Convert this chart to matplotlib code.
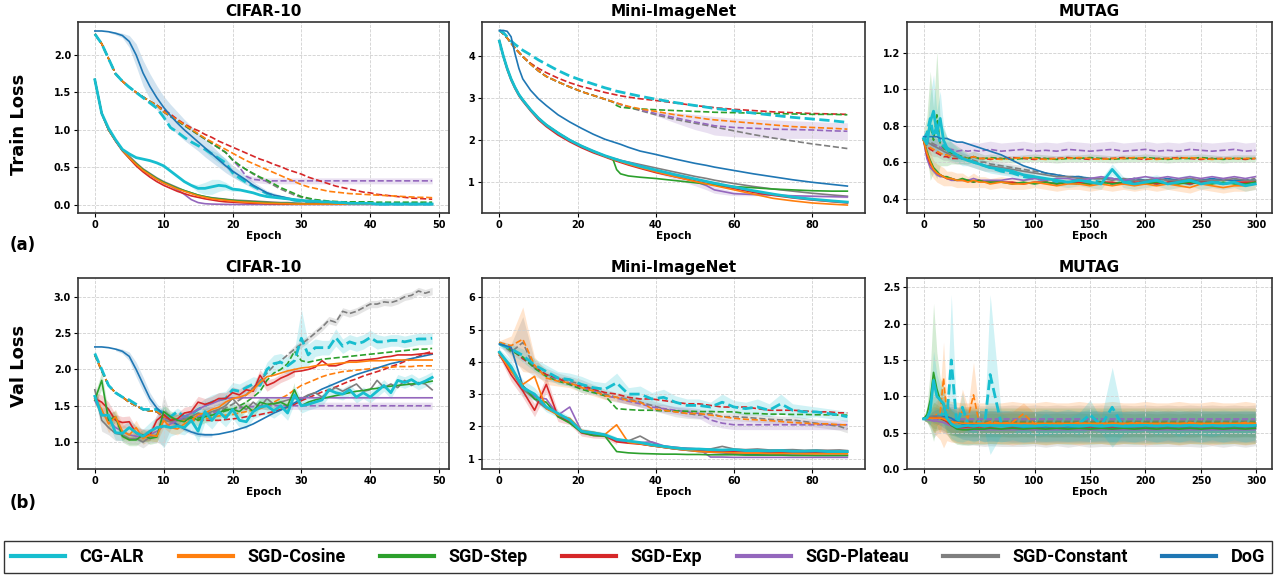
import matplotlib.pyplot as plt
from matplotlib.lines import Line2D
import numpy as np

plt.rcParams["font.family"] = ["DejaVu Sans"]
plt.rcParams["font.weight"] = "bold"
plt.rcParams["axes.titleweight"] = "bold"
plt.rcParams["axes.labelweight"] = "bold"

methods = ["CG-ALR", "SGD-Cosine", "SGD-Step", "SGD-Exp", "SGD-Plateau", "SGD-Constant", "DoG"]
colors = ["#17becf", "#ff7f0e", "#2ca02c", "#d62728", "#9467bd", "#7f7f7f", "#1f77b4"]

# ---------------- CIFAR-10 (epochs 0..49) ----------------
cifar_ep = list(range(50))

cifar_train_solid = {
    "CG-ALR": [1.67, 1.22, 1.02, 0.87, 0.74, 0.68, 0.63, 0.61, 0.59, 0.56,
               0.52, 0.45, 0.38, 0.31, 0.26, 0.22, 0.22, 0.24, 0.26, 0.25,
               0.21, 0.20, 0.18, 0.16, 0.13, 0.11, 0.10, 0.09, 0.08, 0.07,
               0.06, 0.05, 0.05, 0.04, 0.04, 0.03, 0.03, 0.02, 0.02, 0.02,
               0.02, 0.01, 0.01, 0.01, 0.01, 0.01, 0.01, 0.01, 0.01, 0.01],
    "SGD-Cosine": [1.67, 1.22, 1.00, 0.86, 0.73, 0.63, 0.54, 0.46, 0.40, 0.34,
                   0.29, 0.25, 0.21, 0.18, 0.15, 0.12, 0.10, 0.08, 0.07, 0.06,
                   0.05, 0.04, 0.035, 0.03, 0.025, 0.02, 0.02, 0.015, 0.015, 0.01,
                   0.01, 0.01, 0.01, 0.01, 0.01, 0.01, 0.01, 0.01, 0.01, 0.01,
                   0.01, 0.01, 0.01, 0.01, 0.01, 0.01, 0.01, 0.01, 0.01, 0.01],
    "SGD-Step": [1.67, 1.22, 1.00, 0.86, 0.73, 0.63, 0.55, 0.47, 0.41, 0.35,
                 0.30, 0.26, 0.22, 0.19, 0.16, 0.13, 0.11, 0.09, 0.08, 0.07,
                 0.06, 0.05, 0.045, 0.04, 0.035, 0.03, 0.025, 0.02, 0.02, 0.015,
                 0.015, 0.01, 0.01, 0.01, 0.01, 0.01, 0.01, 0.01, 0.01, 0.01,
                 0.01, 0.01, 0.01, 0.01, 0.01, 0.01, 0.01, 0.01, 0.01, 0.01],
    "SGD-Exp": [1.67, 1.22, 1.00, 0.85, 0.72, 0.62, 0.52, 0.44, 0.37, 0.31,
                0.26, 0.22, 0.18, 0.15, 0.12, 0.10, 0.08, 0.065, 0.05, 0.04,
                0.035, 0.03, 0.025, 0.02, 0.02, 0.015, 0.015, 0.01, 0.01, 0.01,
                0.01, 0.01, 0.01, 0.01, 0.01, 0.01, 0.01, 0.01, 0.01, 0.01,
                0.01, 0.01, 0.01, 0.01, 0.01, 0.01, 0.01, 0.01, 0.01, 0.01],
    "SGD-Plateau": [1.67, 1.22, 1.00, 0.86, 0.73, 0.63, 0.54, 0.46, 0.40, 0.34,
                    0.29, 0.25, 0.20, 0.14, 0.07, 0.03, 0.015, 0.01, 0.008, 0.006,
                    0.005, 0.005, 0.005, 0.005, 0.005, 0.005, 0.005, 0.005, 0.005, 0.005,
                    0.005, 0.005, 0.005, 0.005, 0.005, 0.005, 0.005, 0.005, 0.005, 0.005,
                    0.005, 0.005, 0.005, 0.005, 0.005, 0.005, 0.005, 0.005, 0.005, 0.005],
    "SGD-Constant": [1.67, 1.22, 1.00, 0.86, 0.74, 0.65, 0.56, 0.48, 0.42, 0.36,
                     0.31, 0.27, 0.23, 0.19, 0.16, 0.13, 0.11, 0.095, 0.085, 0.075,
                     0.065, 0.06, 0.055, 0.05, 0.045, 0.04, 0.035, 0.03, 0.03, 0.025,
                     0.02, 0.02, 0.02, 0.015, 0.015, 0.015, 0.01, 0.01, 0.01, 0.01,
                     0.01, 0.01, 0.01, 0.01, 0.01, 0.01, 0.01, 0.01, 0.01, 0.01],
    "DoG": [2.32, 2.32, 2.31, 2.29, 2.26, 2.18, 2.00, 1.76, 1.58, 1.43,
            1.30, 1.19, 1.09, 1.00, 0.92, 0.84, 0.76, 0.68, 0.60, 0.52,
            0.45, 0.39, 0.33, 0.26, 0.21, 0.16, 0.13, 0.11, 0.09, 0.07,
            0.06, 0.05, 0.04, 0.03, 0.025, 0.02, 0.015, 0.01, 0.01, 0.01,
            0.01, 0.01, 0.01, 0.01, 0.01, 0.01, 0.01, 0.01, 0.01, 0.01],
}

cifar_train_dashed = {
    "CG-ALR": [2.28, 2.15, 1.95, 1.75, 1.65, 1.57, 1.50, 1.43, 1.36, 1.29,
               1.17, 1.03, 0.97, 0.90, 0.84, 0.79, 0.74, 0.68, 0.62, 0.56,
               0.43, 0.36, 0.30, 0.25, 0.20, 0.15, 0.12, 0.10, 0.08, 0.06,
               0.05, 0.04, 0.035, 0.03, 0.025, 0.02, 0.02, 0.02, 0.015, 0.015,
               0.015, 0.01, 0.01, 0.01, 0.01, 0.01, 0.01, 0.01, 0.01, 0.01],
    "SGD-Cosine": [2.28, 2.15, 1.95, 1.75, 1.65, 1.57, 1.50, 1.44, 1.38, 1.33,
                   1.24, 1.19, 1.13, 1.07, 1.01, 0.95, 0.89, 0.84, 0.79, 0.74,
                   0.69, 0.64, 0.59, 0.55, 0.51, 0.47, 0.43, 0.39, 0.35, 0.31,
                   0.27, 0.24, 0.22, 0.20, 0.18, 0.17, 0.16, 0.15, 0.145, 0.14,
                   0.135, 0.13, 0.125, 0.12, 0.115, 0.11, 0.105, 0.10, 0.10, 0.095],
    "SGD-Step": [2.28, 2.15, 1.95, 1.75, 1.65, 1.57, 1.50, 1.44, 1.38, 1.33,
                 1.24, 1.18, 1.12, 1.06, 1.00, 0.94, 0.88, 0.82, 0.76, 0.70,
                 0.60, 0.53, 0.47, 0.42, 0.37, 0.33, 0.28, 0.23, 0.19, 0.15,
                 0.11, 0.09, 0.07, 0.06, 0.05, 0.045, 0.04, 0.04, 0.04, 0.04,
                 0.04, 0.035, 0.035, 0.035, 0.035, 0.035, 0.035, 0.035, 0.035, 0.035],
    "SGD-Exp": [2.28, 2.15, 1.95, 1.75, 1.65, 1.57, 1.50, 1.44, 1.38, 1.33,
                1.27, 1.21, 1.14, 1.08, 1.03, 0.99, 0.94, 0.90, 0.85, 0.81,
                0.77, 0.73, 0.69, 0.65, 0.61, 0.58, 0.54, 0.51, 0.47, 0.44,
                0.41, 0.37, 0.34, 0.31, 0.28, 0.25, 0.23, 0.21, 0.19, 0.17,
                0.16, 0.14, 0.13, 0.12, 0.11, 0.10, 0.09, 0.085, 0.08, 0.075],
    "SGD-Plateau": [2.28, 2.15, 1.95, 1.75, 1.65, 1.57, 1.50, 1.44, 1.38, 1.33,
                    1.24, 1.18, 1.12, 1.06, 1.00, 0.94, 0.88, 0.82, 0.76, 0.70,
                    0.60, 0.50, 0.38, 0.34, 0.33, 0.32, 0.32, 0.32, 0.32, 0.32,
                    0.32, 0.32, 0.32, 0.32, 0.32, 0.32, 0.32, 0.32, 0.32, 0.32,
                    0.32, 0.32, 0.32, 0.32, 0.32, 0.32, 0.32, 0.32, 0.32, 0.32],
    "SGD-Constant": [2.28, 2.15, 1.95, 1.75, 1.65, 1.57, 1.50, 1.44, 1.38, 1.33,
                     1.24, 1.18, 1.12, 1.06, 1.00, 0.94, 0.88, 0.82, 0.76, 0.70,
                     0.60, 0.53, 0.47, 0.41, 0.36, 0.31, 0.26, 0.21, 0.17, 0.13,
                     0.10, 0.08, 0.06, 0.05, 0.04, 0.035, 0.03, 0.03, 0.025, 0.025,
                     0.02, 0.02, 0.02, 0.02, 0.02, 0.02, 0.02, 0.02, 0.02, 0.02],
}

# band = (first index, half widths)
cifar_train_band = {
    ("DoG", "-"): (2, [0.01, 0.02, 0.03, 0.08, 0.15, 0.17, 0.17, 0.16,
                       0.15, 0.15, 0.15, 0.14, 0.13, 0.12, 0.12, 0.11, 0.10, 0.09,
                       0.08, 0.07, 0.06, 0.05, 0.04, 0.03, 0.03, 0.02, 0.02, 0.02]),
    ("SGD-Plateau", "--"): (22, [0.03, 0.04, 0.04, 0.04, 0.04, 0.04, 0.04, 0.04,
                                 0.04, 0.04, 0.04, 0.04, 0.04, 0.04, 0.04, 0.04, 0.04, 0.04,
                                 0.04, 0.04, 0.04, 0.04, 0.04, 0.04, 0.04, 0.04, 0.04, 0.04]),
    ("CG-ALR", "-"): (14, [0.02, 0.05, 0.08, 0.10, 0.08, 0.05, 0.03, 0.02]),
    ("CG-ALR", "--"): (16, [0.03, 0.05, 0.06, 0.06, 0.05, 0.04, 0.03]),
}

cifar_val_solid = {
    "CG-ALR": [1.63, 1.37, 1.37, 1.13, 1.12, 1.20, 1.13, 1.08, 1.15, 1.20,
               1.22, 1.20, 1.22, 1.20, 1.30, 1.15, 1.42, 1.30, 1.42, 1.33,
               1.45, 1.30, 1.28, 1.42, 1.48, 1.50, 1.43, 1.50, 1.40, 1.65,
               1.50, 1.52, 1.55, 1.58, 1.72, 1.68, 1.66, 1.72, 1.62, 1.68,
               1.62, 1.70, 1.78, 1.68, 1.85, 1.82, 1.86, 1.80, 1.84, 1.89],
    "SGD-Cosine": [1.60, 1.45, 1.25, 1.35, 1.15, 1.10, 1.20, 1.05, 1.10, 1.08,
                   1.30, 1.20, 1.18, 1.25, 1.30, 1.38, 1.40, 1.45, 1.48, 1.55,
                   1.60, 1.62, 1.65, 1.72, 1.82, 1.90, 1.92, 1.95, 1.98, 2.00,
                   2.02, 2.03, 2.05, 2.06, 2.07, 2.08, 2.09, 2.10, 2.10, 2.11,
                   2.12, 2.12, 2.12, 2.13, 2.13, 2.13, 2.13, 2.13, 2.13, 2.13],
    "SGD-Step": [1.58, 1.85, 1.30, 1.35, 1.08, 1.03, 1.03, 1.10, 1.05, 1.07,
                 1.42, 1.35, 1.30, 1.28, 1.35, 1.30, 1.35, 1.37, 1.40, 1.45,
                 1.45, 1.42, 1.50, 1.42, 1.55, 1.52, 1.53, 1.55, 1.50, 1.72,
                 1.50, 1.55, 1.58, 1.60, 1.62, 1.64, 1.66, 1.68, 1.70, 1.71,
                 1.73, 1.74, 1.76, 1.77, 1.78, 1.79, 1.80, 1.81, 1.82, 1.84],
    "SGD-Exp": [1.60, 1.55, 1.45, 1.30, 1.27, 1.28, 1.12, 1.10, 1.10, 1.30,
                1.38, 1.30, 1.32, 1.40, 1.42, 1.55, 1.52, 1.55, 1.60, 1.60,
                1.68, 1.65, 1.72, 1.70, 1.92, 1.78, 1.82, 1.88, 1.92, 1.97,
                1.98, 2.00, 2.03, 2.12, 2.05, 2.05, 2.08, 2.12, 2.12, 2.13,
                2.14, 2.15, 2.17, 2.18, 2.20, 2.20, 2.20, 2.21, 2.22, 2.22],
    "SGD-Plateau": [1.57, 1.40, 1.30, 1.20, 1.15, 1.10, 1.08, 1.07, 1.10, 1.15,
                    1.22, 1.25, 1.30, 1.35, 1.40, 1.45, 1.50, 1.53, 1.57, 1.60,
                    1.61, 1.61, 1.61, 1.61, 1.61, 1.61, 1.61, 1.61, 1.61, 1.61,
                    1.61, 1.61, 1.61, 1.61, 1.61, 1.61, 1.61, 1.61, 1.61, 1.61,
                    1.61, 1.61, 1.61, 1.61, 1.61, 1.61, 1.61, 1.61, 1.61, 1.61],
    "SGD-Constant": [1.72, 1.30, 1.20, 1.12, 1.10, 1.05, 1.05, 1.00, 1.07, 1.10,
                     1.30, 1.28, 1.30, 1.32, 1.35, 1.40, 1.38, 1.42, 1.45, 1.50,
                     1.60, 1.50, 1.45, 1.55, 1.48, 1.60, 1.52, 1.55, 1.58, 1.60,
                     1.60, 1.65, 1.68, 1.62, 1.70, 1.75, 1.70, 1.75, 1.80, 1.70,
                     1.72, 1.85, 1.75, 1.80, 1.75, 1.85, 1.78, 1.82, 1.80, 1.72],
    "DoG": [2.31, 2.31, 2.30, 2.28, 2.25, 2.18, 2.00, 1.80, 1.60, 1.47,
            1.38, 1.30, 1.24, 1.18, 1.14, 1.11, 1.10, 1.10, 1.11, 1.13,
            1.15, 1.18, 1.21, 1.25, 1.30, 1.35, 1.40, 1.44, 1.49, 1.54,
            1.59, 1.64, 1.68, 1.73, 1.77, 1.81, 1.85, 1.89, 1.93, 1.96,
            1.99, 2.02, 2.05, 2.08, 2.10, 2.13, 2.15, 2.17, 2.19, 2.21],
}

cifar_val_dashed = {
    "CG-ALR": [2.22, 2.00, 1.78, 1.68, 1.62, 1.58, 1.52, 1.45, 1.45, 1.45,
               1.40, 1.35, 1.42, 1.35, 1.38, 1.45, 1.50, 1.55, 1.58, 1.60,
               1.72, 1.70, 1.75, 1.80, 1.78, 2.00, 2.08, 2.10, 2.05, 2.12,
               2.43, 2.20, 2.30, 2.30, 2.30, 2.44, 2.32, 2.38, 2.35, 2.38,
               2.44, 2.38, 2.38, 2.40, 2.40, 2.38, 2.40, 2.42, 2.42, 2.43],
    "SGD-Cosine": [2.20, 1.98, 1.78, 1.68, 1.62, 1.55, 1.50, 1.45, 1.43, 1.42,
                   1.35, 1.32, 1.30, 1.30, 1.30, 1.30, 1.32, 1.34, 1.36, 1.37,
                   1.38, 1.40, 1.42, 1.44, 1.46, 1.50, 1.55, 1.60, 1.65, 1.72,
                   1.78, 1.82, 1.86, 1.90, 1.93, 1.95, 1.97, 1.98, 1.99, 2.00,
                   2.01, 2.02, 2.03, 2.03, 2.04, 2.04, 2.04, 2.05, 2.05, 2.05],
    "SGD-Step": [2.20, 1.98, 1.78, 1.68, 1.62, 1.55, 1.50, 1.45, 1.43, 1.42,
                 1.35, 1.32, 1.30, 1.32, 1.33, 1.33, 1.35, 1.37, 1.40, 1.43,
                 1.45, 1.50, 1.55, 1.62, 1.70, 1.85, 1.95, 2.00, 2.08, 2.25,
                 2.12, 2.10, 2.12, 2.14, 2.15, 2.16, 2.17, 2.18, 2.19, 2.20,
                 2.21, 2.22, 2.23, 2.24, 2.25, 2.26, 2.27, 2.28, 2.28, 2.29],
    "SGD-Exp": [2.20, 1.98, 1.78, 1.68, 1.62, 1.55, 1.50, 1.45, 1.43, 1.42,
                1.35, 1.32, 1.30, 1.30, 1.30, 1.30, 1.30, 1.30, 1.30, 1.31,
                1.32, 1.33, 1.35, 1.36, 1.38, 1.40, 1.42, 1.45, 1.48, 1.52,
                1.57, 1.61, 1.65, 1.69, 1.72, 1.76, 1.80, 1.84, 1.87, 1.91,
                1.94, 1.97, 2.00, 2.04, 2.07, 2.11, 2.14, 2.18, 2.22, 2.25],
    "SGD-Plateau": [2.20, 1.98, 1.78, 1.68, 1.62, 1.55, 1.50, 1.45, 1.43, 1.42,
                    1.32, 1.31, 1.30, 1.31, 1.33, 1.35, 1.38, 1.40, 1.42, 1.44,
                    1.45, 1.47, 1.48, 1.49, 1.50, 1.50, 1.50, 1.50, 1.50, 1.50,
                    1.50, 1.50, 1.50, 1.50, 1.50, 1.50, 1.50, 1.50, 1.50, 1.50,
                    1.50, 1.50, 1.50, 1.50, 1.50, 1.50, 1.50, 1.50, 1.50, 1.50],
    "SGD-Constant": [2.20, 1.98, 1.78, 1.68, 1.62, 1.55, 1.50, 1.45, 1.43, 1.42,
                     1.35, 1.30, 1.30, 1.32, 1.33, 1.35, 1.37, 1.40, 1.43, 1.47,
                     1.52, 1.58, 1.65, 1.75, 1.85, 1.95, 2.05, 2.12, 2.20, 2.28,
                     2.35, 2.42, 2.50, 2.58, 2.68, 2.65, 2.80, 2.77, 2.80, 2.85,
                     2.90, 2.90, 2.93, 2.92, 2.95, 3.00, 3.02, 3.08, 3.05, 3.08],
}

cifar_val_band = {
    ("CG-ALR", "-"): (0, [0.05, 0.10, 0.12, 0.10, 0.10, 0.10, 0.10, 0.10, 0.12, 0.15,
                          0.30, 0.12, 0.10, 0.10, 0.12, 0.15, 0.15, 0.12, 0.12, 0.12,
                          0.12, 0.10, 0.10, 0.10, 0.12, 0.12, 0.10, 0.10, 0.10, 0.12,
                          0.10, 0.08, 0.08, 0.08, 0.10, 0.08, 0.08, 0.08, 0.08, 0.08,
                          0.08, 0.08, 0.08, 0.08, 0.08, 0.08, 0.08, 0.08, 0.08, 0.08]),
    ("CG-ALR", "--"): (10, [0.05, 0.05, 0.05, 0.05, 0.05, 0.08, 0.10, 0.10, 0.10, 0.10,
                            0.10, 0.10, 0.10, 0.10, 0.10, 0.10, 0.12, 0.12, 0.12, 0.15,
                            0.40, 0.15, 0.12, 0.10, 0.10, 0.12, 0.10, 0.10, 0.10, 0.10,
                            0.10, 0.10, 0.08, 0.08, 0.08, 0.08, 0.08, 0.08, 0.08, 0.08]),
    ("SGD-Constant", "-"): (0, [0.10, 0.15, 0.10, 0.10, 0.08, 0.08, 0.08, 0.08, 0.08, 0.10,
                                0.35, 0.10, 0.08, 0.08, 0.08, 0.08, 0.08, 0.08, 0.08, 0.08]),
    ("SGD-Constant", "--"): (28, [0.04, 0.05, 0.05, 0.05, 0.05, 0.05, 0.05, 0.05, 0.05, 0.05,
                                  0.05, 0.05, 0.05, 0.05, 0.05, 0.05, 0.05, 0.05, 0.05, 0.05,
                                  0.05, 0.05]),
    ("DoG", "-"): (3, [0.02, 0.03, 0.06, 0.10, 0.10, 0.08, 0.06, 0.05, 0.04, 0.03,
                       0.03, 0.03, 0.03, 0.03, 0.03]),
    ("SGD-Plateau", "--"): (20, [0.05, 0.05, 0.05, 0.05, 0.05, 0.05, 0.05, 0.05, 0.05, 0.05,
                                 0.05, 0.05, 0.05, 0.05, 0.05, 0.05, 0.05, 0.05, 0.05, 0.05,
                                 0.05, 0.05, 0.05, 0.05, 0.05, 0.05, 0.05, 0.05, 0.05, 0.05]),
    ("SGD-Cosine", "-"): (0, [0.08, 0.10, 0.12, 0.10, 0.10, 0.08, 0.10, 0.08, 0.08, 0.08,
                              0.10, 0.08, 0.08, 0.08]),
    ("SGD-Exp", "-"): (0, [0.08, 0.10, 0.10, 0.08, 0.08, 0.08, 0.08, 0.08, 0.08, 0.08,
                           0.08, 0.08, 0.08, 0.08, 0.08, 0.08, 0.08, 0.08, 0.08, 0.08,
                           0.08, 0.08, 0.08, 0.08, 0.08, 0.08, 0.06, 0.06, 0.06, 0.06]),
    ("SGD-Step", "-"): (0, [0.08, 0.12, 0.10, 0.08, 0.08, 0.08, 0.08, 0.08, 0.08, 0.08,
                            0.10, 0.08, 0.08, 0.08, 0.08, 0.08, 0.08, 0.08, 0.08, 0.08,
                            0.08, 0.08, 0.08, 0.08, 0.08, 0.08, 0.08, 0.08, 0.08, 0.10]),
}

# ---------------- Mini-ImageNet (epochs 0..89) ----------------
mini_ep = [0, 1, 2, 3, 4, 5, 6, 8, 10, 12, 15, 18, 21, 24, 27, 29, 30, 31, 33, 36,
           40, 45, 50, 53, 55, 60, 65, 70, 75, 80, 85, 89]

mini_train_solid = {
    "CG-ALR": [4.35, 4.00, 3.70, 3.45, 3.25, 3.08, 2.95, 2.72, 2.52, 2.36, 2.17, 2.00, 1.86, 1.74, 1.63, 1.57,
               1.54, 1.51, 1.46, 1.38, 1.29, 1.18, 1.08, 1.02, 0.98, 0.89, 0.80, 0.72, 0.65, 0.60, 0.56, 0.53],
    "SGD-Cosine": [4.35, 4.00, 3.70, 3.45, 3.25, 3.08, 2.95, 2.72, 2.52, 2.36, 2.17, 2.00, 1.86, 1.73, 1.62, 1.55,
                   1.52, 1.49, 1.43, 1.35, 1.25, 1.13, 1.02, 0.96, 0.92, 0.82, 0.72, 0.62, 0.56, 0.51, 0.48, 0.46],
    "SGD-Step": [4.35, 4.00, 3.70, 3.45, 3.25, 3.08, 2.95, 2.72, 2.52, 2.36, 2.17, 2.00, 1.86, 1.73, 1.62, 1.56,
                 1.30, 1.20, 1.15, 1.12, 1.09, 1.04, 0.99, 0.96, 0.94, 0.90, 0.87, 0.84, 0.82, 0.80, 0.79, 0.79],
    "SGD-Exp": [4.35, 3.98, 3.67, 3.42, 3.22, 3.05, 2.92, 2.69, 2.48, 2.32, 2.12, 1.96, 1.82, 1.70, 1.60, 1.53,
                1.50, 1.47, 1.41, 1.33, 1.23, 1.13, 1.03, 0.97, 0.94, 0.85, 0.76, 0.69, 0.63, 0.58, 0.54, 0.51],
    "SGD-Plateau": [4.35, 4.00, 3.70, 3.45, 3.25, 3.08, 2.95, 2.72, 2.52, 2.36, 2.17, 2.00, 1.86, 1.74, 1.63, 1.57,
                    1.54, 1.51, 1.47, 1.40, 1.27, 1.15, 1.02, 0.92, 0.82, 0.73, 0.71, 0.70, 0.68, 0.67, 0.66, 0.65],
    "SGD-Constant": [4.35, 4.00, 3.70, 3.45, 3.25, 3.08, 2.95, 2.72, 2.52, 2.36, 2.17, 2.00, 1.86, 1.74, 1.63, 1.57,
                     1.55, 1.52, 1.48, 1.42, 1.34, 1.24, 1.14, 1.09, 1.05, 0.97, 0.90, 0.84, 0.79, 0.74, 0.70, 0.67],
    "DoG": [4.60, 4.60, 4.58, 4.45, 4.05, 3.70, 3.45, 3.18, 2.98, 2.82, 2.60, 2.43, 2.28, 2.14, 2.02, 1.96,
            1.93, 1.90, 1.83, 1.74, 1.66, 1.55, 1.45, 1.40, 1.36, 1.28, 1.20, 1.13, 1.06, 1.00, 0.95, 0.91],
}

mini_train_dashed = {
    "CG-ALR": [4.60, 4.55, 4.45, 4.35, 4.27, 4.20, 4.13, 4.02, 3.90, 3.80, 3.65, 3.52, 3.42, 3.33, 3.24, 3.19,
               3.16, 3.14, 3.10, 3.04, 2.97, 2.89, 2.82, 2.78, 2.75, 2.70, 2.64, 2.59, 2.54, 2.50, 2.46, 2.42],
    "SGD-Cosine": [4.60, 4.52, 4.42, 4.30, 4.18, 4.08, 3.98, 3.80, 3.64, 3.51, 3.38, 3.26, 3.15, 3.06, 2.97, 2.91,
                   2.88, 2.85, 2.80, 2.74, 2.68, 2.60, 2.54, 2.50, 2.48, 2.44, 2.40, 2.36, 2.32, 2.30, 2.28, 2.26],
    "SGD-Step": [4.60, 4.52, 4.42, 4.30, 4.18, 4.08, 3.98, 3.80, 3.64, 3.51, 3.38, 3.26, 3.15, 3.06, 2.97, 2.91,
                 2.82, 2.78, 2.76, 2.74, 2.72, 2.70, 2.68, 2.67, 2.66, 2.65, 2.64, 2.63, 2.62, 2.61, 2.61, 2.60],
    "SGD-Exp": [4.60, 4.52, 4.42, 4.30, 4.18, 4.08, 3.98, 3.82, 3.70, 3.60, 3.47, 3.36, 3.27, 3.20, 3.13, 3.09,
                3.07, 3.05, 3.02, 2.98, 2.94, 2.88, 2.82, 2.79, 2.77, 2.73, 2.70, 2.67, 2.65, 2.63, 2.62, 2.61],
    "SGD-Plateau": [4.60, 4.52, 4.42, 4.30, 4.18, 4.08, 3.98, 3.80, 3.64, 3.51, 3.38, 3.26, 3.15, 3.06, 2.97, 2.91,
                    2.88, 2.85, 2.79, 2.72, 2.63, 2.53, 2.43, 2.38, 2.34, 2.30, 2.28, 2.26, 2.25, 2.24, 2.22, 2.21],
    "SGD-Constant": [4.60, 4.52, 4.42, 4.30, 4.18, 4.08, 3.98, 3.80, 3.64, 3.51, 3.38, 3.26, 3.15, 3.06, 2.97, 2.90,
                     2.87, 2.84, 2.78, 2.70, 2.60, 2.49, 2.40, 2.35, 2.31, 2.22, 2.13, 2.05, 1.98, 1.91, 1.85, 1.80],
}

mini_train_band = {
    ("SGD-Plateau", "--"): (20, [0.05, 0.12, 0.18, 0.20, 0.22, 0.22, 0.22, 0.22, 0.21, 0.20, 0.20, 0.20]),
    ("SGD-Plateau", "-"): (19, [0.02, 0.05, 0.08, 0.10, 0.10, 0.08, 0.05, 0.03, 0.02, 0.02, 0.02, 0.02, 0.02]),
}

mini_val_ep = [0, 3, 6, 9, 12, 15, 18, 21, 24, 27, 30, 33, 36, 39, 42, 45, 48, 51, 54, 57,
               60, 63, 66, 69, 72, 75, 78, 81, 84, 87, 89]

mini_val_solid = {
    "CG-ALR": [4.30, 3.85, 3.20, 3.00, 2.60, 2.40, 2.20, 1.85, 1.80, 1.74, 1.60, 1.55, 1.50, 1.43, 1.38, 1.33,
               1.30, 1.30, 1.28, 1.27, 1.28, 1.25, 1.25, 1.24, 1.25, 1.23, 1.23, 1.24, 1.22, 1.22, 1.22],
    "SGD-Cosine": [4.25, 3.70, 3.30, 3.55, 2.55, 2.35, 2.25, 1.88, 1.82, 1.75, 2.05, 1.50, 1.46, 1.40, 1.35, 1.30,
                   1.26, 1.22, 1.20, 1.19, 1.18, 1.17, 1.17, 1.16, 1.16, 1.16, 1.15, 1.15, 1.15, 1.15, 1.15],
    "SGD-Step": [4.30, 3.80, 3.25, 2.85, 2.75, 2.30, 2.10, 1.82, 1.72, 1.70, 1.22, 1.18, 1.16, 1.15, 1.14, 1.14,
                 1.13, 1.13, 1.12, 1.12, 1.12, 1.11, 1.11, 1.11, 1.11, 1.10, 1.10, 1.10, 1.10, 1.10, 1.10],
    "SGD-Exp": [4.25, 3.60, 3.10, 2.50, 3.30, 2.30, 2.15, 1.80, 1.72, 1.70, 1.52, 1.48, 1.45, 1.40, 1.35, 1.30,
                1.27, 1.25, 1.23, 1.22, 1.22, 1.21, 1.21, 1.20, 1.20, 1.20, 1.20, 1.20, 1.20, 1.20, 1.20],
    "SGD-Plateau": [4.30, 3.80, 3.25, 2.90, 2.85, 2.35, 2.60, 1.85, 1.75, 1.72, 1.55, 1.52, 1.50, 1.52, 1.40, 1.35,
                    1.32, 1.30, 1.05, 1.05, 1.04, 1.04, 1.04, 1.04, 1.04, 1.04, 1.04, 1.04, 1.04, 1.04, 1.04],
    "SGD-Constant": [4.20, 3.75, 3.15, 2.85, 2.55, 2.40, 2.15, 1.85, 1.78, 1.72, 1.60, 1.55, 1.70, 1.50, 1.38, 1.35,
                     1.32, 1.30, 1.30, 1.38, 1.30, 1.28, 1.30, 1.27, 1.27, 1.28, 1.26, 1.27, 1.26, 1.27, 1.25],
    "DoG": [4.55, 4.45, 3.25, 2.95, 2.60, 2.35, 2.15, 1.85, 1.76, 1.72, 1.58, 1.52, 1.46, 1.40, 1.35, 1.30,
            1.26, 1.22, 1.20, 1.18, 1.15, 1.14, 1.13, 1.12, 1.12, 1.11, 1.11, 1.10, 1.10, 1.10, 1.10],
}

mini_val_dashed = {
    "CG-ALR": [4.55, 4.40, 4.20, 3.90, 3.70, 3.50, 3.45, 3.30, 3.20, 3.15, 3.35, 3.00, 3.00, 2.85, 2.90, 2.75,
               2.65, 2.65, 2.60, 2.75, 2.60, 2.55, 2.60, 2.50, 2.70, 2.50, 2.45, 2.45, 2.40, 2.35, 2.30],
    "SGD-Cosine": [4.60, 4.50, 4.70, 3.90, 3.50, 3.40, 3.35, 3.20, 3.10, 2.95, 2.90, 2.80, 2.75, 2.55, 2.50, 2.45,
                   2.40, 2.40, 2.35, 2.30, 2.25, 2.22, 2.20, 2.18, 2.15, 2.12, 2.10, 2.08, 2.08, 2.05, 2.05],
    "SGD-Step": [4.60, 4.35, 4.15, 3.80, 3.55, 3.40, 3.30, 3.15, 3.05, 2.95, 2.55, 2.52, 2.50, 2.50, 2.48, 2.48,
                 2.47, 2.46, 2.46, 2.45, 2.45, 2.40, 2.40, 2.38, 2.38, 2.37, 2.37, 2.36, 2.36, 2.35, 2.35],
    "SGD-Exp": [4.60, 4.40, 4.10, 3.85, 3.60, 3.50, 3.30, 3.25, 3.15, 3.05, 3.00, 2.90, 2.85, 2.85, 2.80, 2.75,
                2.70, 2.70, 2.65, 2.60, 2.60, 2.60, 2.55, 2.50, 2.50, 2.50, 2.48, 2.45, 2.45, 2.42, 2.42],
    "SGD-Plateau": [4.60, 4.40, 4.10, 3.85, 3.60, 3.45, 3.35, 3.20, 3.10, 2.95, 2.88, 2.78, 2.70, 2.60, 2.55, 2.50,
                    2.45, 2.40, 2.20, 2.10, 2.05, 2.05, 2.05, 2.05, 2.05, 2.05, 2.05, 2.05, 2.05, 2.05, 2.05],
    "SGD-Constant": [4.60, 4.30, 4.60, 3.80, 3.60, 3.50, 3.40, 3.30, 3.15, 3.00, 2.90, 2.85, 2.75, 2.65, 2.55, 2.45,
                     2.40, 2.35, 2.40, 2.30, 2.30, 2.28, 2.25, 2.22, 2.20, 2.20, 2.15, 2.10, 2.05, 2.00, 1.92],
}

mini_val_band = {
    ("SGD-Cosine", "--"): (0, [0.05, 0.30, 1.00, 0.25, 0.20, 0.15, 0.15, 0.15, 0.15, 0.12, 0.12, 0.12, 0.12]),
    ("SGD-Constant", "--"): (0, [0.05, 0.25, 0.80, 0.25, 0.20, 0.15, 0.15, 0.15, 0.15, 0.15, 0.15, 0.15, 0.15,
                                 0.15, 0.15, 0.15, 0.15, 0.12, 0.12, 0.12, 0.12, 0.12, 0.12, 0.12, 0.12, 0.12,
                                 0.12, 0.12, 0.12, 0.12, 0.12]),
    ("CG-ALR", "--"): (0, [0.10, 0.15, 0.20, 0.20, 0.20, 0.20, 0.20, 0.25, 0.20, 0.20, 0.30, 0.20, 0.25, 0.20,
                           0.25, 0.20, 0.20, 0.20, 0.15, 0.25, 0.20, 0.20, 0.25, 0.20, 0.30, 0.20, 0.20, 0.15,
                           0.15, 0.15, 0.15]),
    ("SGD-Plateau", "--"): (10, [0.10, 0.10, 0.10, 0.10, 0.12, 0.12, 0.15, 0.15, 0.15, 0.15, 0.15, 0.15, 0.15,
                                 0.15, 0.15, 0.15, 0.15, 0.15, 0.15, 0.15, 0.15]),
    ("CG-ALR", "-"): (0, [0.10, 0.20, 0.25, 0.20, 0.15, 0.12, 0.10, 0.10, 0.08, 0.08, 0.08]),
    ("SGD-Exp", "-"): (0, [0.10, 0.20, 0.20, 0.20, 0.25, 0.15, 0.10, 0.10, 0.08, 0.08, 0.08]),
}

# ---------------- MUTAG (epochs 0..299) ----------------
mutag_ep = [0, 3, 6, 9, 12, 15, 18, 21, 25, 30, 35, 40, 45, 50, 55, 60, 70, 80, 90, 100,
            110, 120, 130, 140, 150, 160, 170, 180, 190, 200, 210, 220, 230, 240, 250, 260, 270, 280, 290, 299]

mutag_train_solid = {
    "CG-ALR": [0.73, 0.70, 0.82, 0.88, 0.76, 0.84, 0.72, 0.68, 0.66, 0.64,
               0.62, 0.61, 0.60, 0.59, 0.58, 0.57, 0.56, 0.55, 0.53, 0.52,
               0.51, 0.50, 0.49, 0.50, 0.49, 0.48, 0.56, 0.49, 0.48, 0.49,
               0.50, 0.48, 0.49, 0.50, 0.48, 0.49, 0.48, 0.49, 0.47, 0.48],
    "SGD-Cosine": [0.72, 0.65, 0.60, 0.56, 0.54, 0.53, 0.52, 0.51, 0.51, 0.50,
                   0.50, 0.49, 0.50, 0.49, 0.49, 0.48, 0.49, 0.48, 0.48, 0.49,
                   0.48, 0.47, 0.48, 0.48, 0.47, 0.48, 0.47, 0.48, 0.47, 0.48,
                   0.47, 0.48, 0.47, 0.46, 0.48, 0.47, 0.46, 0.47, 0.47, 0.48],
    "SGD-Step": [0.72, 0.66, 0.61, 0.57, 0.55, 0.53, 0.52, 0.52, 0.51, 0.50,
                 0.51, 0.50, 0.49, 0.50, 0.49, 0.49, 0.49, 0.48, 0.49, 0.48,
                 0.49, 0.48, 0.49, 0.48, 0.48, 0.49, 0.48, 0.49, 0.48, 0.48,
                 0.49, 0.48, 0.48, 0.49, 0.48, 0.48, 0.49, 0.48, 0.48, 0.49],
    "SGD-Exp": [0.72, 0.64, 0.59, 0.56, 0.54, 0.53, 0.52, 0.51, 0.51, 0.50,
                0.50, 0.50, 0.49, 0.50, 0.49, 0.49, 0.49, 0.49, 0.48, 0.49,
                0.49, 0.48, 0.49, 0.49, 0.48, 0.49, 0.49, 0.48, 0.49, 0.49,
                0.48, 0.49, 0.49, 0.48, 0.49, 0.49, 0.48, 0.49, 0.49, 0.49],
    "SGD-Plateau": [0.72, 0.62, 0.57, 0.55, 0.53, 0.52, 0.52, 0.51, 0.50, 0.50,
                    0.50, 0.50, 0.51, 0.50, 0.50, 0.50, 0.50, 0.51, 0.50, 0.51,
                    0.50, 0.51, 0.51, 0.50, 0.51, 0.52, 0.51, 0.50, 0.51, 0.52,
                    0.51, 0.52, 0.51, 0.52, 0.51, 0.52, 0.51, 0.52, 0.51, 0.52],
    "SGD-Constant": [0.72, 0.71, 0.70, 0.69, 0.68, 0.67, 0.66, 0.65, 0.64, 0.63,
                     0.62, 0.61, 0.60, 0.59, 0.58, 0.58, 0.57, 0.56, 0.55, 0.54,
                     0.53, 0.52, 0.52, 0.51, 0.51, 0.51, 0.50, 0.51, 0.50, 0.50,
                     0.51, 0.50, 0.50, 0.51, 0.50, 0.50, 0.50, 0.51, 0.50, 0.50],
    "DoG": [0.74, 0.74, 0.74, 0.74, 0.74, 0.73, 0.73, 0.73, 0.72, 0.71,
            0.71, 0.70, 0.69, 0.68, 0.67, 0.66, 0.64, 0.61, 0.58, 0.56,
            0.54, 0.53, 0.52, 0.52, 0.51, 0.51, 0.51, 0.50, 0.51, 0.50,
            0.50, 0.51, 0.50, 0.50, 0.50, 0.51, 0.50, 0.50, 0.50, 0.50],
}

mutag_train_dashed = {
    "CG-ALR": [0.72, 0.76, 0.84, 0.74, 0.80, 0.70, 0.69, 0.67, 0.65, 0.63,
               0.62, 0.61, 0.60, 0.59, 0.58, 0.57, 0.55, 0.54, 0.52, 0.51,
               0.50, 0.49, 0.49, 0.48, 0.50, 0.49, 0.48, 0.49, 0.50, 0.49,
               0.48, 0.50, 0.49, 0.48, 0.49, 0.50, 0.48, 0.49, 0.48, 0.49],
    "SGD-Cosine": [0.72, 0.70, 0.68, 0.67, 0.66, 0.65, 0.64, 0.64, 0.63, 0.63,
                   0.62, 0.62, 0.63, 0.62, 0.62, 0.62, 0.615, 0.62, 0.625, 0.62,
                   0.615, 0.62, 0.62, 0.625, 0.62, 0.615, 0.62, 0.62, 0.625, 0.62,
                   0.615, 0.62, 0.62, 0.625, 0.62, 0.615, 0.62, 0.62, 0.62, 0.62],
    "SGD-Step": [0.72, 0.75, 0.80, 0.72, 0.86, 0.70, 0.68, 0.66, 0.65, 0.64,
                 0.63, 0.62, 0.63, 0.62, 0.62, 0.625, 0.62, 0.615, 0.62, 0.625,
                 0.62, 0.615, 0.62, 0.62, 0.625, 0.62, 0.615, 0.62, 0.62, 0.625,
                 0.62, 0.615, 0.62, 0.62, 0.625, 0.62, 0.615, 0.62, 0.62, 0.62],
    "SGD-Exp": [0.72, 0.69, 0.67, 0.66, 0.65, 0.64, 0.63, 0.63, 0.62, 0.62,
                0.62, 0.62, 0.63, 0.62, 0.62, 0.615, 0.62, 0.625, 0.62, 0.615,
                0.62, 0.62, 0.625, 0.62, 0.615, 0.62, 0.62, 0.625, 0.62, 0.615,
                0.62, 0.62, 0.625, 0.62, 0.615, 0.62, 0.62, 0.62, 0.615, 0.62],
    "SGD-Plateau": [0.72, 0.71, 0.70, 0.69, 0.69, 0.68, 0.68, 0.67, 0.67, 0.66,
                    0.665, 0.66, 0.665, 0.66, 0.665, 0.67, 0.66, 0.665, 0.67, 0.66,
                    0.665, 0.66, 0.67, 0.665, 0.66, 0.665, 0.67, 0.66, 0.665, 0.67,
                    0.66, 0.665, 0.66, 0.67, 0.665, 0.66, 0.665, 0.67, 0.66, 0.665],
    "SGD-Constant": [0.73, 0.72, 0.71, 0.70, 0.69, 0.68, 0.67, 0.66, 0.65, 0.64,
                     0.63, 0.62, 0.61, 0.60, 0.60, 0.59, 0.58, 0.57, 0.56, 0.55,
                     0.54, 0.53, 0.52, 0.52, 0.51, 0.51, 0.51, 0.50, 0.51, 0.50,
                     0.51, 0.50, 0.50, 0.51, 0.50, 0.50, 0.51, 0.50, 0.50, 0.51],
}

mutag_train_band = {
    ("SGD-Step", "--"): (0, [0.05, 0.10, 0.30, 0.18, 0.35, 0.12, 0.10, 0.08, 0.06, 0.05,
                             0.04, 0.03, 0.03, 0.03, 0.02, 0.02, 0.02, 0.02, 0.02, 0.02,
                             0.02, 0.02, 0.02, 0.02, 0.02, 0.02, 0.02, 0.02, 0.02, 0.02,
                             0.02, 0.02, 0.02, 0.02, 0.02, 0.02, 0.02, 0.02, 0.02, 0.02]),
    ("SGD-Plateau", "--"): (0, [0.03, 0.03, 0.03, 0.04, 0.04, 0.04, 0.04, 0.04, 0.045, 0.045,
                                0.045, 0.045, 0.045, 0.045, 0.045, 0.045, 0.045, 0.045, 0.045, 0.045,
                                0.045, 0.045, 0.045, 0.045, 0.045, 0.045, 0.045, 0.045, 0.045, 0.045,
                                0.045, 0.045, 0.045, 0.045, 0.045, 0.045, 0.045, 0.045, 0.045, 0.045]),
    ("CG-ALR", "-"): (0, [0.03, 0.06, 0.15, 0.20, 0.12, 0.15, 0.08, 0.06, 0.05, 0.04,
                          0.04, 0.03, 0.03, 0.03, 0.03, 0.03, 0.03, 0.03, 0.03, 0.03,
                          0.03, 0.03, 0.03, 0.03, 0.03, 0.03, 0.03, 0.03, 0.03, 0.03,
                          0.03, 0.03, 0.03, 0.03, 0.03, 0.03, 0.03, 0.03, 0.03, 0.03]),
    ("SGD-Cosine", "-"): (0, [0.03, 0.05, 0.06, 0.05, 0.05, 0.05, 0.05, 0.04, 0.04, 0.04,
                              0.04, 0.03, 0.04, 0.03, 0.03, 0.03, 0.03, 0.03, 0.03, 0.03,
                              0.03, 0.03, 0.03, 0.03, 0.03, 0.03, 0.03, 0.03, 0.03, 0.03,
                              0.03, 0.03, 0.03, 0.03, 0.03, 0.03, 0.03, 0.03, 0.03, 0.03]),
    ("SGD-Constant", "-"): (0, [0.04, 0.05, 0.06, 0.06, 0.05, 0.05, 0.05, 0.04, 0.04, 0.04,
                                0.03, 0.03, 0.03, 0.03, 0.03, 0.03, 0.03, 0.03, 0.03, 0.03]),
}

mutag_val_solid = {
    "CG-ALR": [0.69, 0.70, 0.80, 1.22, 1.00, 0.95, 0.90, 0.70, 0.62, 0.58,
               0.59, 0.60, 0.59, 0.60, 0.59, 0.60, 0.59, 0.60, 0.59, 0.59,
               0.60, 0.59, 0.60, 0.59, 0.60, 0.59, 0.60, 0.59, 0.59, 0.60,
               0.59, 0.60, 0.59, 0.60, 0.59, 0.60, 0.59, 0.60, 0.59, 0.60],
    "SGD-Cosine": [0.69, 0.69, 0.70, 0.70, 0.70, 0.70, 0.69, 0.67, 0.65, 0.64,
                   0.63, 0.63, 0.63, 0.63, 0.63, 0.63, 0.63, 0.63, 0.63, 0.63,
                   0.63, 0.63, 0.63, 0.63, 0.63, 0.63, 0.63, 0.63, 0.63, 0.63,
                   0.63, 0.63, 0.63, 0.63, 0.63, 0.63, 0.63, 0.63, 0.63, 0.63],
    "SGD-Step": [0.69, 0.75, 0.95, 1.33, 1.10, 0.95, 0.88, 0.70, 0.60, 0.55,
                 0.54, 0.54, 0.55, 0.55, 0.55, 0.56, 0.55, 0.56, 0.55, 0.56,
                 0.55, 0.56, 0.55, 0.56, 0.55, 0.56, 0.55, 0.56, 0.55, 0.56,
                 0.55, 0.56, 0.55, 0.56, 0.55, 0.56, 0.55, 0.56, 0.55, 0.56],
    "SGD-Exp": [0.69, 0.69, 0.70, 0.70, 0.70, 0.70, 0.68, 0.65, 0.60, 0.57,
                0.57, 0.58, 0.58, 0.58, 0.58, 0.58, 0.59, 0.58, 0.59, 0.58,
                0.59, 0.58, 0.59, 0.59, 0.58, 0.59, 0.58, 0.59, 0.58, 0.59,
                0.58, 0.59, 0.58, 0.59, 0.58, 0.59, 0.58, 0.59, 0.58, 0.59],
    "SGD-Plateau": [0.69, 0.68, 0.67, 0.66, 0.66, 0.65, 0.64, 0.62, 0.59, 0.56,
                    0.55, 0.54, 0.54, 0.54, 0.54, 0.54, 0.54, 0.54, 0.54, 0.54,
                    0.54, 0.54, 0.54, 0.54, 0.54, 0.54, 0.54, 0.54, 0.54, 0.54,
                    0.54, 0.54, 0.54, 0.54, 0.54, 0.54, 0.54, 0.54, 0.54, 0.54],
    "SGD-Constant": [0.69, 0.70, 0.72, 0.73, 0.73, 0.72, 0.70, 0.67, 0.62, 0.58,
                     0.56, 0.56, 0.56, 0.56, 0.55, 0.56, 0.55, 0.56, 0.55, 0.56,
                     0.55, 0.56, 0.55, 0.56, 0.55, 0.56, 0.55, 0.56, 0.55, 0.56,
                     0.55, 0.56, 0.55, 0.56, 0.55, 0.56, 0.55, 0.56, 0.55, 0.56],
    "DoG": [0.70, 0.71, 0.72, 0.72, 0.72, 0.72, 0.72, 0.72, 0.70, 0.65,
            0.62, 0.61, 0.60, 0.60, 0.59, 0.59, 0.59, 0.58, 0.58, 0.58,
            0.58, 0.58, 0.58, 0.58, 0.58, 0.58, 0.58, 0.58, 0.58, 0.58,
            0.58, 0.58, 0.58, 0.58, 0.58, 0.58, 0.58, 0.58, 0.58, 0.58],
}

mutag_val_dashed = {
    "CG-ALR": [0.69, 0.69, 0.70, 0.72, 0.75, 0.70, 0.80, 0.70, 1.50, 0.60,
               0.85, 0.62, 0.60, 0.65, 0.60, 1.30, 0.62, 0.58, 0.60, 0.56,
               0.62, 0.58, 0.60, 0.62, 0.75, 0.60, 0.85, 0.58, 0.60, 0.62,
               0.57, 0.60, 0.55, 0.58, 0.57, 0.55, 0.58, 0.60, 0.58, 0.60],
    "SGD-Cosine": [0.69, 0.69, 0.70, 0.72, 0.75, 0.78, 1.25, 0.75, 0.65, 0.62,
                   0.80, 0.70, 1.02, 0.64, 0.62, 0.65, 0.63, 0.64, 0.76, 0.62,
                   0.60, 0.63, 0.61, 0.64, 0.62, 0.60, 0.63, 0.61, 0.64, 0.62,
                   0.60, 0.63, 0.62, 0.64, 0.62, 0.61, 0.63, 0.62, 0.64, 0.62],
    "SGD-Step": [0.69, 0.70, 0.71, 0.72, 0.71, 0.70, 0.68, 0.66, 0.65, 0.64,
                 0.64, 0.64, 0.64, 0.64, 0.64, 0.64, 0.64, 0.64, 0.64, 0.64,
                 0.64, 0.64, 0.64, 0.64, 0.64, 0.64, 0.64, 0.64, 0.64, 0.64,
                 0.64, 0.64, 0.64, 0.64, 0.64, 0.64, 0.64, 0.64, 0.64, 0.64],
    "SGD-Exp": [0.69, 0.69, 0.70, 0.70, 0.70, 0.69, 0.68, 0.66, 0.65, 0.64,
                0.63, 0.63, 0.63, 0.63, 0.63, 0.63, 0.63, 0.63, 0.63, 0.63,
                0.63, 0.63, 0.63, 0.63, 0.63, 0.63, 0.63, 0.63, 0.63, 0.63,
                0.63, 0.63, 0.63, 0.63, 0.63, 0.63, 0.63, 0.63, 0.63, 0.63],
    "SGD-Plateau": [0.69, 0.69, 0.69, 0.69, 0.69, 0.69, 0.69, 0.69, 0.69, 0.69,
                    0.69, 0.69, 0.69, 0.69, 0.69, 0.69, 0.69, 0.69, 0.69, 0.69,
                    0.69, 0.69, 0.69, 0.69, 0.69, 0.69, 0.69, 0.69, 0.69, 0.69,
                    0.69, 0.69, 0.69, 0.69, 0.69, 0.69, 0.69, 0.69, 0.69, 0.69],
    "SGD-Constant": [0.69, 0.70, 0.71, 0.71, 0.70, 0.69, 0.68, 0.67, 0.66, 0.66,
                     0.66, 0.66, 0.66, 0.66, 0.66, 0.66, 0.66, 0.66, 0.66, 0.66,
                     0.66, 0.66, 0.66, 0.66, 0.66, 0.66, 0.66, 0.66, 0.66, 0.66,
                     0.66, 0.66, 0.66, 0.66, 0.66, 0.66, 0.66, 0.66, 0.66, 0.66],
}

mutag_val_band = {
    ("SGD-Constant", "-"): (0, [0.02, 0.05, 0.15, 0.30, 0.25, 0.20, 0.20, 0.20, 0.22, 0.22,
                                0.22, 0.23, 0.23, 0.24, 0.24, 0.24, 0.24, 0.25, 0.24, 0.24,
                                0.25, 0.24, 0.25, 0.24, 0.25, 0.25, 0.24, 0.25, 0.24, 0.25,
                                0.24, 0.25, 0.24, 0.25, 0.25, 0.24, 0.25, 0.24, 0.25, 0.24]),
    ("SGD-Constant", "--"): (0, [0.02, 0.05, 0.10, 0.15, 0.15, 0.15, 0.18, 0.18, 0.20, 0.20,
                                 0.20, 0.20, 0.21, 0.21, 0.21, 0.21, 0.21, 0.22, 0.21, 0.22,
                                 0.21, 0.22, 0.21, 0.22, 0.21, 0.22, 0.21, 0.22, 0.21, 0.22,
                                 0.21, 0.22, 0.21, 0.22, 0.21, 0.22, 0.21, 0.22, 0.21, 0.22]),
    ("SGD-Step", "-"): (0, [0.02, 0.10, 0.40, 0.95, 0.50, 0.30, 0.25, 0.22, 0.21, 0.21,
                            0.21, 0.21, 0.21, 0.21, 0.21, 0.21, 0.21, 0.21, 0.21, 0.21,
                            0.21, 0.21, 0.21, 0.21, 0.21, 0.21, 0.21, 0.21, 0.21, 0.21,
                            0.21, 0.21, 0.21, 0.21, 0.21, 0.21, 0.21, 0.21, 0.21, 0.21]),
    ("SGD-Step", "--"): (0, [0.02, 0.05, 0.10, 0.20, 0.18, 0.15, 0.15, 0.16, 0.18, 0.20,
                             0.20, 0.20, 0.20, 0.20, 0.20, 0.20, 0.20, 0.20, 0.20, 0.20,
                             0.20, 0.20, 0.20, 0.20, 0.20, 0.20, 0.20, 0.20, 0.20, 0.20,
                             0.20, 0.20, 0.20, 0.20, 0.20, 0.20, 0.20, 0.20, 0.20, 0.20]),
    ("SGD-Cosine", "-"): (0, [0.02, 0.05, 0.10, 0.20, 0.25, 0.30, 0.40, 0.28, 0.28, 0.28,
                              0.28, 0.28, 0.28, 0.28, 0.28, 0.28, 0.28, 0.30, 0.28, 0.28,
                              0.30, 0.28, 0.28, 0.30, 0.28, 0.28, 0.30, 0.28, 0.28, 0.30,
                              0.28, 0.28, 0.30, 0.28, 0.28, 0.30, 0.28, 0.28, 0.30, 0.28]),
    ("DoG", "-"): (0, [0.02, 0.03, 0.05, 0.08, 0.10, 0.12, 0.15, 0.18, 0.20, 0.20,
                       0.21, 0.21, 0.21, 0.21, 0.21, 0.21, 0.21, 0.21, 0.21, 0.21,
                       0.21, 0.21, 0.21, 0.21, 0.21, 0.21, 0.21, 0.21, 0.21, 0.21,
                       0.21, 0.21, 0.21, 0.21, 0.21, 0.21, 0.21, 0.21, 0.21, 0.21]),
    ("CG-ALR", "--"): (0, [0.02, 0.03, 0.05, 0.10, 0.10, 0.10, 0.20, 0.10, 0.90, 0.10,
                           0.20, 0.10, 0.10, 0.15, 0.10, 1.10, 0.15, 0.10, 0.10, 0.10,
                           0.15, 0.10, 0.10, 0.15, 0.20, 0.10, 0.55, 0.10, 0.10, 0.10,
                           0.10, 0.10, 0.10, 0.10, 0.10, 0.10, 0.10, 0.10, 0.10, 0.10]),
    ("SGD-Cosine", "--"): (0, [0.02, 0.03, 0.05, 0.10, 0.15, 0.30, 0.50, 0.20, 0.15, 0.12,
                               0.30, 0.15, 0.45, 0.15, 0.12, 0.15, 0.15, 0.15, 0.15, 0.15]),
    ("CG-ALR", "-"): (0, [0.02, 0.05, 0.20, 0.40, 0.30, 0.20, 0.15, 0.18, 0.20, 0.20,
                          0.22, 0.20, 0.22, 0.20, 0.22, 0.20, 0.22, 0.20, 0.22, 0.20,
                          0.22, 0.20, 0.22, 0.20, 0.22, 0.20, 0.22, 0.20, 0.22, 0.20,
                          0.22, 0.20, 0.22, 0.20, 0.22, 0.20, 0.22, 0.20, 0.22, 0.20]),
}


def draw(ax, ep, solid, dashed, band, title, ylim):
    ep = np.array(ep)
    order = ["DoG", "SGD-Constant", "SGD-Plateau", "SGD-Exp", "SGD-Step", "SGD-Cosine", "CG-ALR"]
    # bands first so lines stay on top
    for (m, ls), (i0, sd) in band.items():
        data = solid if ls == "-" else dashed
        y = np.array(data[m])
        sd = np.array(sd)
        seg = slice(i0, i0 + len(sd))
        ax.fill_between(ep[seg], y[seg] - sd, y[seg] + sd,
                        color=colors[methods.index(m)], alpha=0.2, lw=0)
    for ls, data in (("--", dashed), ("-", solid)):
        for m in order:
            if m not in data:
                continue
            lw = 2.0 if m == "CG-ALR" else 1.2
            ax.plot(ep, data[m], color=colors[methods.index(m)], lw=lw, ls=ls)
    ax.set_title(title, fontsize=11, pad=4)
    ax.set_xlabel("Epoch", fontsize=7.5, labelpad=1)
    ax.set_ylim(*ylim)
    ax.tick_params(labelsize=7, length=3, pad=2)
    ax.grid(True, ls="--", lw=0.6, color="#d0d0d0")
    for s in ax.spines.values():
        s.set_linewidth(1.2)
        s.set_color("#333333")


fig = plt.figure(figsize=(12.76, 5.79), dpi=100)

lefts = [0.0611, 0.3777, 0.7108]
widths = [0.2908, 0.300, 0.2860]
bottoms = [0.632, 0.190]
h = 0.330

panels = [
    [("CIFAR-10", cifar_ep, cifar_train_solid, cifar_train_dashed, cifar_train_band, (-0.11, 2.44)),
     ("Mini-ImageNet", mini_ep, mini_train_solid, mini_train_dashed, mini_train_band, (0.27, 4.8)),
     ("MUTAG", mutag_ep, mutag_train_solid, mutag_train_dashed, mutag_train_band, (0.32, 1.37))],
    [("CIFAR-10", cifar_ep, cifar_val_solid, cifar_val_dashed, cifar_val_band, (0.63, 3.26)),
     ("Mini-ImageNet", mini_val_ep, mini_val_solid, mini_val_dashed, mini_val_band, (0.68, 6.6)),
     ("MUTAG", mutag_ep, mutag_val_solid, mutag_val_dashed, mutag_val_band, (0.0, 2.63))],
]

for r in range(2):
    for c in range(3):
        ax = fig.add_axes([lefts[c], bottoms[r], widths[c], h])
        title, ep, solid, dashed, band, ylim = panels[r][c]
        draw(ax, ep, solid, dashed, band, title, ylim)

fig.text(0.015, 0.786, "Train Loss", rotation=90, ha="center", va="center", fontsize=13)
fig.text(0.015, 0.368, "Val Loss", rotation=90, ha="center", va="center", fontsize=13)
fig.text(0.018, 0.577, "(a)", ha="center", va="center", fontsize=12)
fig.text(0.018, 0.131, "(b)", ha="center", va="center", fontsize=12)

handles = [Line2D([], [], color=colors[i], lw=3) for i in range(len(methods))]
leg = fig.legend(handles, methods, ncol=7, loc="center",
                 bbox_to_anchor=(0.003, 0.004, 0.994, 0.068), mode="expand",
                 prop={"family": ["Roboto", "DejaVu Sans"], "weight": "bold", "size": 13},
                 handlelength=3.0, frameon=True, fancybox=False, edgecolor="black", borderaxespad=0)
leg.get_frame().set_linewidth(1.0)

fig.savefig("out.png", dpi=100)
